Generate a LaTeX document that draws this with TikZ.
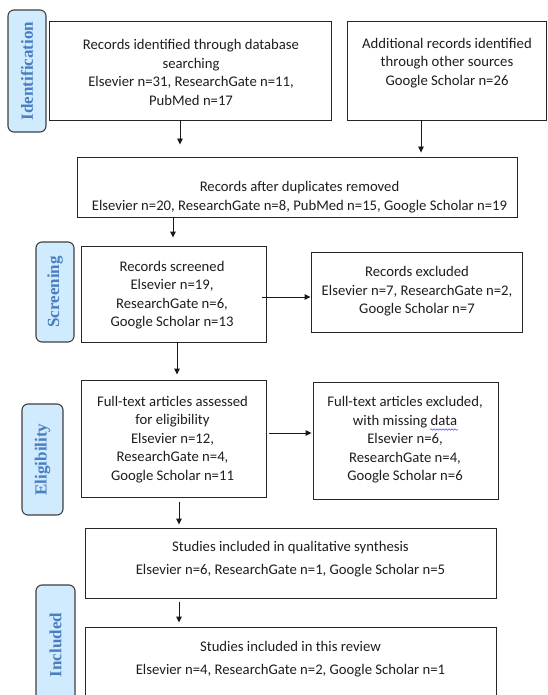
\documentclass[tikz,border=0pt]{standalone}
\usepackage{fontspec}
\setmainfont{Carlito}
\newfontfamily\labelfont{Liberation Serif}
\usetikzlibrary{arrows.meta,decorations.pathmorphing}
\definecolor{lblfill}{HTML}{CFEBFD}
\definecolor{lblline}{HTML}{404040}
\definecolor{lbltext}{HTML}{4A7EC0}
\definecolor{txtcol}{HTML}{1E1E1E}
\tikzset{
  box/.style={draw=black!85, line width=0.9pt, rectangle, inner sep=0pt},
  txt/.style={align=center, font=\fontsize{14.7}{18.5}\selectfont, text=txtcol, inner sep=0pt},
  phase/.style={draw=lblline, line width=1.1pt, fill=lblfill, rounded corners=6pt, inner sep=0pt},
  phasetxt/.style={rotate=90, font=\labelfont\bfseries\fontsize{17}{20}\selectfont, text=lbltext, inner sep=0pt},
  arr/.style={draw=black!90, line width=0.9pt, -{Triangle[length=6pt,width=5.5pt]}}
}
\begin{document}
\begin{tikzpicture}[x=1pt,y=-1pt]
\useasboundingbox (0,0) rectangle (547,695);
\clip (0,0) rectangle (547,695);
\fill[white] (0,0) rectangle (547,695);
% phase labels
\node[phase, minimum width=38pt, minimum height=122pt] (L1) at (27,71) {};
\node[phasetxt] (L1t) at (L1.center) {Identification};
\node[phase, minimum width=38pt, minimum height=100pt] (L2) at (55,292) {};
\node[phasetxt] (L2t) at (L2.center) {Screening};
\node[phase, minimum width=41pt, minimum height=111pt] (L3) at (42.5,459.5) {};
\node[phasetxt] (L3t) at (L3.center) {Eligibility};
\node[phase, minimum width=39pt, minimum height=120pt] (L4) at (55.5,645) {};
\node[phasetxt] (L4t) at (L4.center) {Included};
% boxes
\node[box, minimum width=282pt, minimum height=99pt] (b1) at (190,70.5) {};
\node[txt] (t1) at (191,72.5) {Records identified through database\\searching\\Elsevier n=31, ResearchGate n=11,\\PubMed n=17};
\node[box, minimum width=199pt, minimum height=99pt] (b2) at (446.5,70.5) {};
\node[txt] (t2) at (447,62.7) {Additional records identified\\through other sources\\Google Scholar n=26};
\node[box, minimum width=440pt, minimum height=60pt] (b3) at (297,187) {};
\node[txt] (t3) at (299.5,197) {Records after duplicates removed\\Elsevier n=20, ResearchGate n=8, PubMed n=15, Google Scholar n=19};
\node[box, minimum width=185pt, minimum height=96pt] (b4) at (173.5,294) {};
\node[txt] (t4) at (172,295) {Records screened\\Elsevier n=19,\\ResearchGate n=6,\\Google Scholar n=13};
\node[box, minimum width=211pt, minimum height=80pt] (b5) at (416.5,292) {};
\node[txt] (t5) at (417,291.5) {Records excluded\\Elsevier n=7, ResearchGate n=2,\\Google Scholar n=7};
\node[box, minimum width=185pt, minimum height=117pt] (b6) at (173.5,438.5) {};
\node[txt] (t6) at (172.5,439.5) {Full-text articles assessed\\for eligibility\\Elsevier n=12,\\ResearchGate n=4,\\Google Scholar n=11};
\node[box, minimum width=185pt, minimum height=117pt] (b7) at (405.5,440.5) {};
\node[txt] (t7) at (405,440) {Full-text articles excluded,\\with missing data\\Elsevier n=6,\\ResearchGate n=4,\\Google Scholar n=6};
\coordinate (sq1) at (430,429.5);
\coordinate (sq2) at (458,429.5);
\draw[blue!70!white, line width=0.5pt, decorate, decoration={snake, amplitude=0.8pt, segment length=3pt}] (sq1) -- (sq2);
\node[box, minimum width=411pt, minimum height=70pt] (b8) at (290.5,563) {};
\node[txt] (t8) at (290.5,559.5) {Studies included in qualitative synthesis\\[4.5pt]Elsevier n=6, ResearchGate n=1, Google Scholar n=5};
\node[box, minimum width=411pt, minimum height=80pt] (b9) at (290.5,667) {};
\node[txt] (t9) at (290.5,659) {Studies included in this review\\[4.5pt]Elsevier n=4, ResearchGate n=2, Google Scholar n=1};
% arrows
\draw[arr, shorten >=12pt] (b1.south -| 180,0) -- (b3.north -| 180,0);
\draw[arr, shorten >=4pt] (b2.south -| 421,0) -- (b3.north -| 421,0);
\draw[arr, shorten >=8pt] (b3.south -| 173,0) -- (b4.north -| 173,0);
\draw[arr, shorten <=-4pt] (b4.east |- 0,297) -- (b5.west |- 0,297);
\draw[arr, shorten >=5pt] (b4.south -| 177,0) -- (b6.north -| 177,0);
\draw[arr, shorten <=3pt, shorten >=1pt] (b6.east |- 0,433) -- (b7.west |- 0,433);
\draw[arr, shorten <=5pt, shorten >=3pt] (b6.south -| 179,0) -- (b8.north -| 179,0);
\draw[arr, shorten <=4pt, shorten >=4pt] (b8.south -| 179,0) -- (b9.north -| 179,0);
\end{tikzpicture}
\end{document}
